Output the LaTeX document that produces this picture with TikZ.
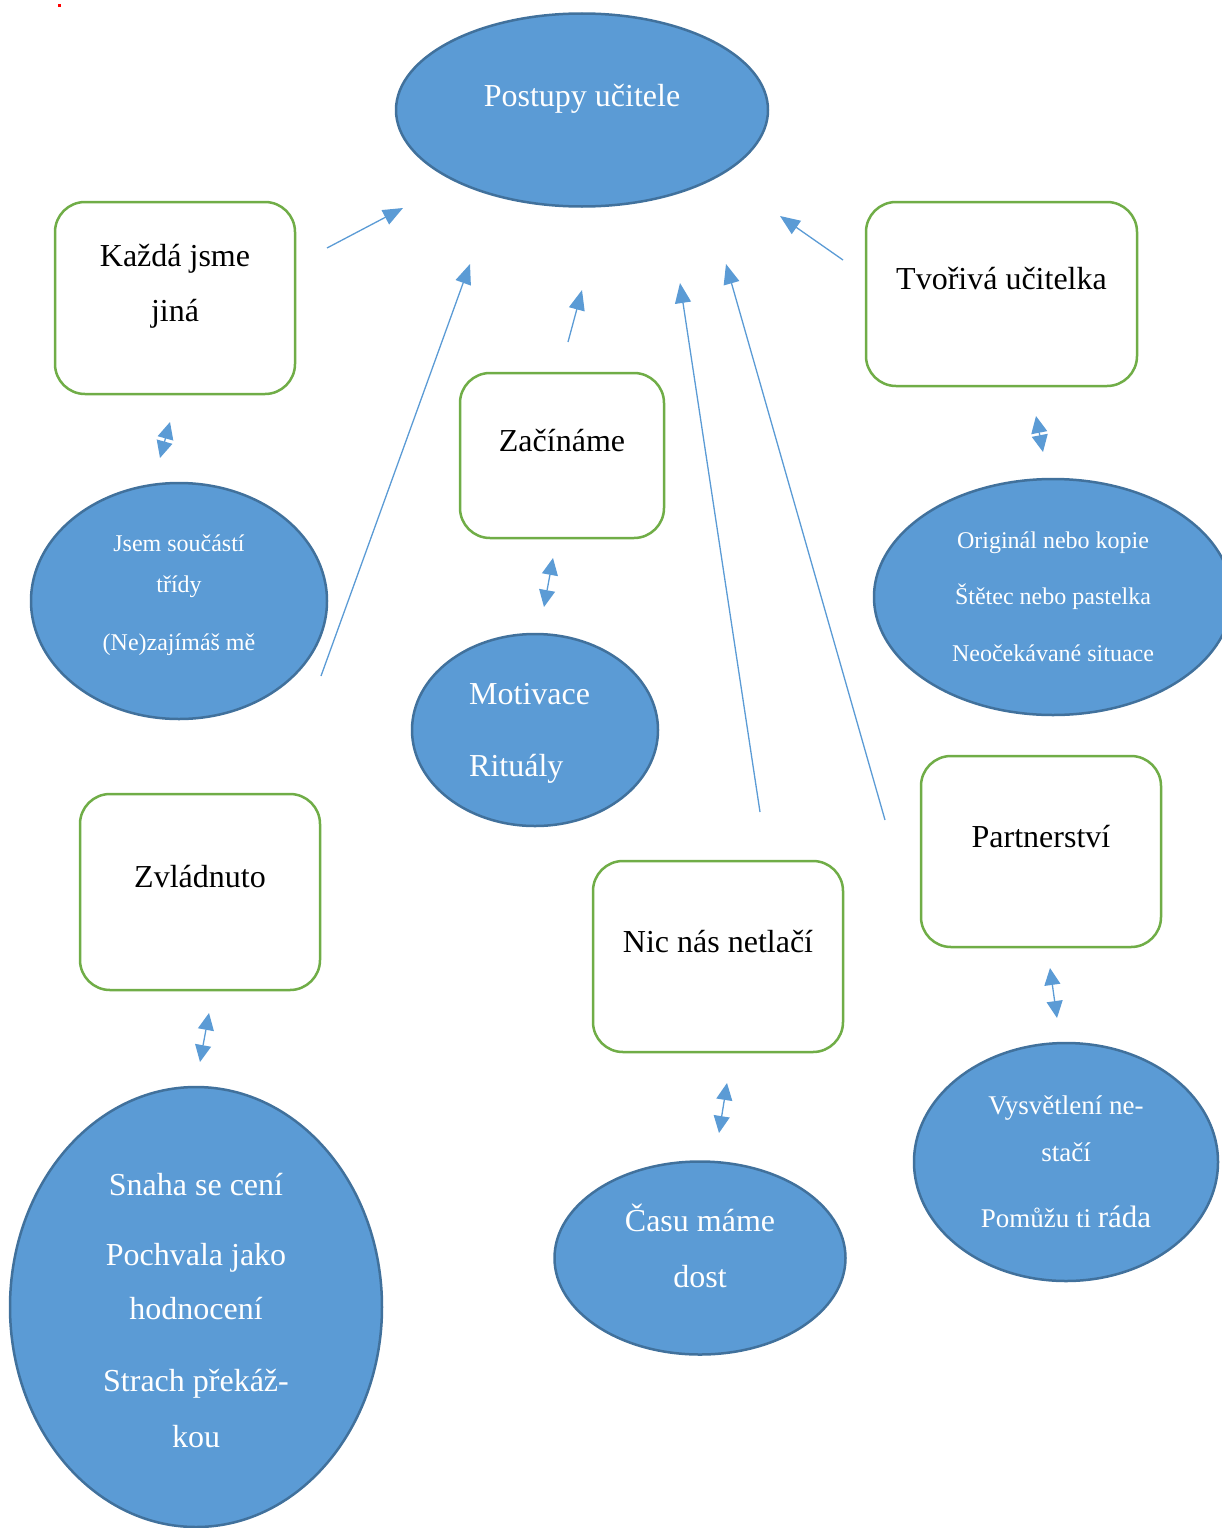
\documentclass[tikz,border=0pt]{standalone}
\usepackage{fontspec}
\setmainfont{Liberation Serif}
\usetikzlibrary{shapes.geometric,arrows.meta}
\definecolor{ellfill}{HTML}{5B9BD5}
\definecolor{elldraw}{HTML}{41719C}
\definecolor{boxgreen}{HTML}{70AD47}
\definecolor{arrblue}{HTML}{5B9BD5}
\tikzset{
  oval/.style={ellipse, fill=ellfill, draw=elldraw, line width=2.5pt, inner sep=0pt},
  greenbox/.style={rectangle, rounded corners=30pt, draw=boxgreen, line width=2.5pt, fill=white, inner sep=0pt},
  wtxt/.style={anchor=base, text=white, inner sep=0pt, font=\fontsize{32}{38}\selectfont},
  wsmall/.style={wtxt, font=\fontsize{24}{29}\selectfont},
  wmid/.style={wtxt, font=\fontsize{27}{32}\selectfont},
  btxt/.style={anchor=base, text=black, inner sep=0pt, font=\fontsize{32}{38}\selectfont},
  link/.style={draw=arrblue, line width=1.3pt, -{Triangle[length=20pt,width=16pt]}},
  dlink/.style={draw=arrblue, line width=1.3pt, {Triangle[length=17pt,width=16pt]}-{Triangle[length=17pt,width=16pt]}},
}
\begin{document}
\begin{tikzpicture}[x=1pt,y=-1pt]
\useasboundingbox (0,0) rectangle (1222,1528);
\fill[red] (57.5,4.5) rectangle (60.5,7.5);

% ellipses
\node[oval, minimum width=372pt, minimum height=193pt] (postupy) at (582,110) {};
\node[wtxt] (postupy-t) at (582,106) {Postupy učitele};

\node[oval, minimum width=296pt, minimum height=236pt] (jsem) at (179,601) {};
\node[wsmall] (jsem-t1) at (179,551) {Jsem součástí};
\node[wsmall] (jsem-t2) at (179,592) {třídy};
\node[wsmall] (jsem-t3) at (179,650) {(Ne)zajímáš mě};

\node[oval, minimum width=246pt, minimum height=192pt] (motiv) at (535,730) {};
\node[wtxt, anchor=base west] (motiv-t1) at (469,704) {Motivace};
\node[wtxt, anchor=base west] (motiv-t2) at (469,776) {Rituály};

\node[oval, minimum width=358pt, minimum height=236pt] (orig) at (1053,597) {};
\node[wsmall] (orig-t1) at (1053,548) {Originál nebo kopie};
\node[wsmall] (orig-t2) at (1053,604) {Štětec nebo pastelka};
\node[wsmall] (orig-t3) at (1053,661) {Neočekávané situace};

\node[oval, minimum width=372pt, minimum height=440pt] (snaha) at (196,1307) {};
\node[wtxt] (snaha-t1) at (196,1195) {Snaha se cení};
\node[wtxt] (snaha-t2) at (196,1265) {Pochvala jako};
\node[wtxt] (snaha-t3) at (196,1319) {hodnocení};
\node[wtxt] (snaha-t4) at (196,1391) {Strach překáž-};
\node[wtxt] (snaha-t5) at (196,1447) {kou};

\node[oval, minimum width=291pt, minimum height=193pt] (casu) at (700,1258) {};
\node[wtxt] (casu-t1) at (700,1231) {Času máme};
\node[wtxt] (casu-t2) at (700,1287) {dost};

\node[oval, minimum width=304pt, minimum height=238pt] (vysv) at (1066,1162) {};
\node[wmid] (vysv-t1) at (1066,1114) {Vysvětlení ne-};
\node[wmid] (vysv-t2) at (1066,1161) {stačí};
\node[wmid] (vysv-t3) at (1066,1227) {Pomůžu ti {\fontsize{31}{36}\selectfont ráda}};

% boxes
\node[greenbox, minimum width=240pt, minimum height=192pt] (kazda) at (175,298) {};
\node[btxt] (kazda-t1) at (175,266) {Každá jsme};
\node[btxt] (kazda-t2) at (175,321) {jiná};

\node[greenbox, minimum width=271pt, minimum height=184pt] (tvoriva) at (1001.5,294) {};
\node[btxt] (tvoriva-t) at (1001.5,289) {Tvořivá učitelka};

\node[greenbox, minimum width=204pt, minimum height=165pt] (zacin) at (562,455.5) {};
\node[btxt] (zacin-t) at (562,451) {Začínáme};

\node[greenbox, minimum width=240pt, minimum height=196pt] (zvlad) at (200,892) {};
\node[btxt] (zvlad-t) at (200,887) {Zvládnuto};

\node[greenbox, minimum width=250pt, minimum height=191pt] (nic) at (718,956.5) {};
\node[btxt] (nic-t) at (718,952) {Nic nás netlačí};

\node[greenbox, minimum width=240pt, minimum height=191pt] (partner) at (1041,851.5) {};
\node[btxt] (partner-t) at (1041,847) {Partnerství};

% arrow end points
\coordinate (a1) at (327,248);  \coordinate (a2) at (403,208);
\coordinate (b1) at (321,676);  \coordinate (b2) at (470,264);
\coordinate (c1) at (568,342);  \coordinate (c2) at (582,290);
\coordinate (d1) at (760,812);  \coordinate (d2) at (680,283);
\coordinate (e1) at (885,820);  \coordinate (e2) at (726,264);
\coordinate (f1) at (843,260);  \coordinate (f2) at (780,216);
\coordinate (g1) at (170,422);  \coordinate (g2) at (160,458);
\coordinate (h1) at (553,558);  \coordinate (h2) at (544,607);
\coordinate (i1) at (1036,416); \coordinate (i2) at (1043,452);
\coordinate (j1) at (209,1013); \coordinate (j2) at (200,1062);
\coordinate (k1) at (727,1083); \coordinate (k2) at (719,1133);
\coordinate (l1) at (1050,968); \coordinate (l2) at (1057,1018);

\draw[link] (a1) -- (a2);
\draw[link] (b1) -- (b2);
\draw[link] (c1) -- (c2);
\draw[link] (d1) -- (d2);
\draw[link] (e1) -- (e2);
\draw[link] (f1) -- (f2);
\draw[dlink] (g1) -- (g2);
\draw[dlink] (h1) -- (h2);
\draw[dlink] (i1) -- (i2);
\draw[dlink] (j1) -- (j2);
\draw[dlink] (k1) -- (k2);
\draw[dlink] (l1) -- (l2);
\end{tikzpicture}
\end{document}
